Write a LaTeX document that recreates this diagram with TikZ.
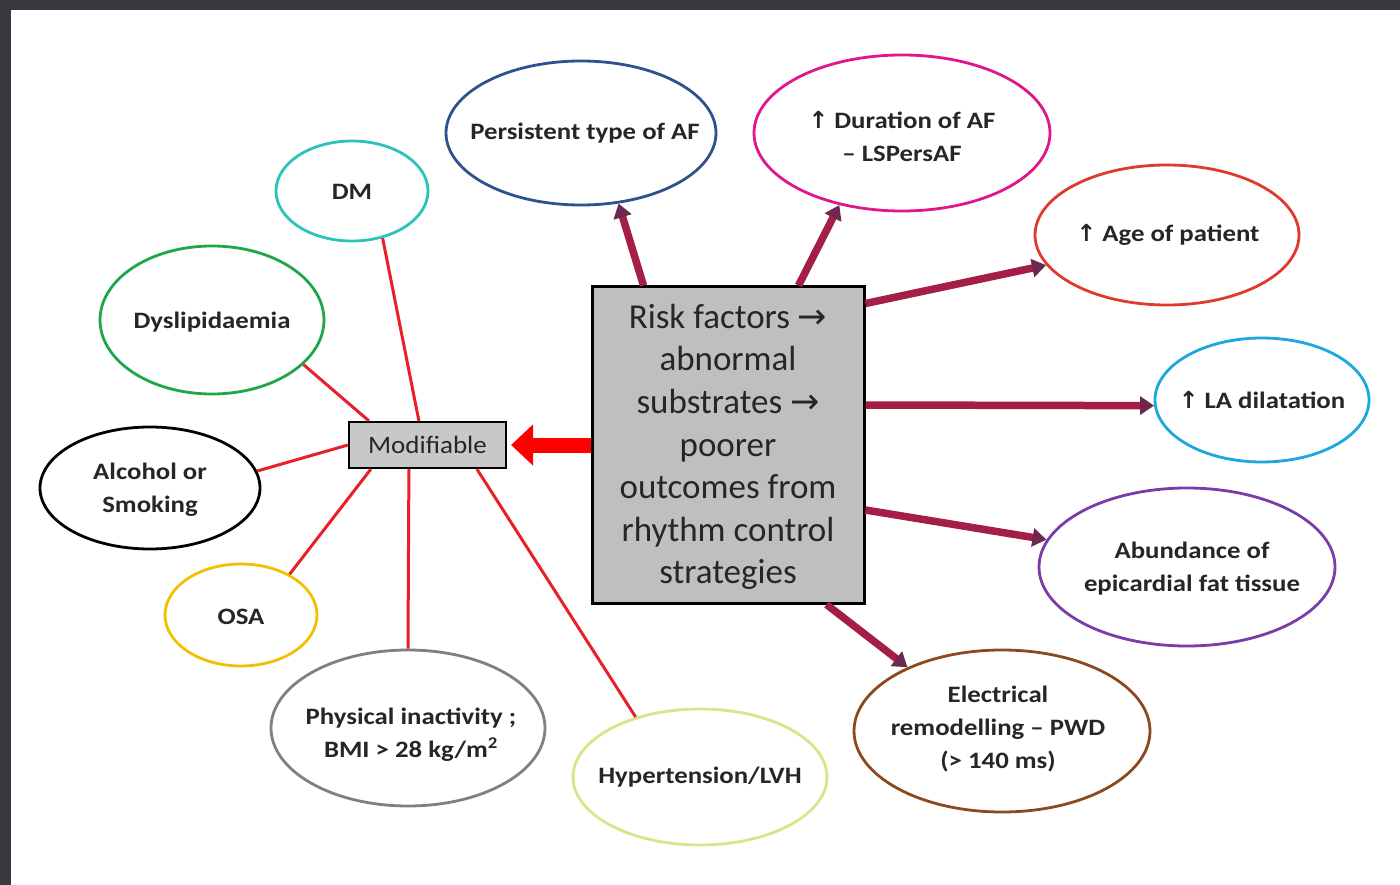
\documentclass[tikz,border=0pt]{standalone}
\usepackage{fontspec}
\setmainfont{Carlito}
\newfontfamily\efont[FakeStretch=1.14]{Carlito}
\newfontfamily\mfont[FakeStretch=1.08]{Carlito}
\newfontfamily\sym{DejaVu Sans}
\usetikzlibrary{shapes.geometric,arrows.meta}
\definecolor{bgdark}{RGB}{56,56,62}
\definecolor{boxgray}{RGB}{191,191,191}
\definecolor{modgray}{RGB}{200,200,200}
\definecolor{crim}{RGB}{165,30,70}
\definecolor{crimtip}{RGB}{110,40,80}
\definecolor{lred}{RGB}{232,32,40}
\definecolor{cPers}{RGB}{47,82,143}
\definecolor{cDur}{RGB}{224,22,140}
\definecolor{cAge}{RGB}{224,58,46}
\definecolor{cLA}{RGB}{28,168,221}
\definecolor{cAbu}{RGB}{122,60,168}
\definecolor{cEle}{RGB}{138,74,30}
\definecolor{cHyp}{RGB}{212,232,135}
\definecolor{cPhy}{RGB}{128,128,128}
\definecolor{cOSA}{RGB}{242,192,0}
\definecolor{cAlc}{RGB}{0,0,0}
\definecolor{cDys}{RGB}{31,166,74}
\definecolor{cDM}{RGB}{43,196,184}
\tikzset{
  ell/.style={draw=#1, ellipse, line width=2.8pt, inner sep=0pt},
  etxt/.style={font=\efont\fontsize{23.5}{33}\selectfont\bfseries, align=center, text=black!85, inner sep=0pt},
  redline/.style={draw=lred, line width=3pt},
  crimarrow/.style={draw=crim, line width=7.5pt, -{Triangle[length=14pt,width=18pt,color=crimtip]}},
  bigred/.style={draw=red, line width=15pt, -{Triangle[length=22pt,width=40pt,fill=red,color=red]}}
}
\begin{document}
\begin{tikzpicture}[x=1pt,y=-1pt]
\useasboundingbox (0,0) rectangle (1400,885);
\fill[bgdark] (0,0) rectangle (1400,885);
\fill[white] (11,10) rectangle (1400,885);

% central box
\node[draw, line width=3pt, fill=boxgray, minimum width=272pt, minimum height=316pt, inner sep=0pt] (box) at (728,445) {};
\node[font=\fontsize{35}{42.6}\selectfont, align=center, text=black!85, inner sep=0pt] (boxtxt) at (728,447)
  {Risk factors {\sym →}\\abnormal\\substrates {\sym →}\\poorer\\outcomes from\\rhythm control\\strategies};

% modifiable box
\node[draw, line width=2.2pt, fill=modgray, minimum width=157pt, minimum height=46pt, inner sep=0pt,
      font=\mfont\fontsize{25}{28}\selectfont, text=black!85] (mod) at (427.5,445) {Modifiable};

% right ellipses
\node[ell=cPers, minimum width=270pt, minimum height=144pt] (pers) at (581,133) {};
\node[etxt] (perst) at (585,133) {Persistent type of AF};
\node[ell=cDur, minimum width=296pt, minimum height=156pt] (dur) at (902,133) {};
\node[etxt] (durt) at (902,136) {{\sym ↑} Duration of AF\\– LSPersAF};
\node[ell=cAge, minimum width=264pt, minimum height=140pt] (age) at (1167,235) {};
\node[etxt] (aget) at (1168,235) {{\sym ↑} Age of patient};
\node[ell=cLA, minimum width=214pt, minimum height=124pt] (la) at (1262,400) {};
\node[etxt] (lat) at (1262,400) {{\sym ↑} LA dilatation};
\node[ell=cAbu, minimum width=296pt, minimum height=158pt] (abu) at (1187,567) {};
\node[etxt] (abut) at (1192,569) {Abundance of\\epicardial fat tissue};
\node[ell=cEle, minimum width=296pt, minimum height=162pt] (ele) at (1002,731) {};
\node[etxt] (elet) at (998,729) {Electrical\\remodelling – PWD\\(> 140 ms)};

% left ellipses
\node[ell=cHyp, minimum width=254pt, minimum height=136pt] (hyp) at (700,777) {};
\node[etxt] (hypt) at (700,777) {Hypertension/LVH};
\node[ell=cPhy, minimum width=274pt, minimum height=156pt] (phy) at (408,728) {};
\node[etxt] (phyt) at (411,735) {Physical inactivity ;\\BMI > 28 kg/m\textsuperscript{2}};
\node[ell=cOSA, minimum width=152pt, minimum height=102pt] (osa) at (241,615) {};
\node[etxt] (osat) at (241,617) {OSA};
\node[ell=cAlc, minimum width=220pt, minimum height=122pt] (alc) at (150,488) {};
\node[etxt] (alct) at (150,490) {Alcohol or\\Smoking};
\node[ell=cDys, minimum width=224pt, minimum height=148pt] (dys) at (212,320) {};
\node[etxt] (dyst) at (212,322) {Dyslipidaemia};
\node[ell=cDM, minimum width=152pt, minimum height=100pt] (dm) at (352,191) {};
\node[etxt] (dmt) at (352,192) {DM};

% red lines from Modifiable
\draw[redline] ([xshift=71pt]mod.north west) -- (dm.-57);
\draw[redline] ([xshift=21pt]mod.north west) -- (dys.-26);
\draw[redline] (mod.west) -- (alc.9.5);
\draw[redline] ([xshift=23pt]mod.south west) -- (osa.40);
\draw[redline] ([xshift=61pt]mod.south west) -- (phy.90);
\draw[redline] ([xshift=129pt]mod.south west) -- (hyp.137.7);

% big red arrow
\draw[bigred, shorten >=4pt] (box.west |- mod.east) -- (mod.east);

% crimson arrows
\draw[crimarrow] ([xshift=53pt]box.north west) -- (pers.-62);
\draw[crimarrow] ([xshift=208pt]box.north west) -- (dur.-131);
\draw[crimarrow] ([yshift=-18pt]box.north east) -- (age.-166.5);
\draw[crimarrow] ([yshift=40pt]box.east) -- (la.-177);
\draw[crimarrow] ([yshift=-65pt]box.east) -- (abu.169.6);
\draw[crimarrow] ([xshift=236pt]box.south west) -- (ele.146.7);
\end{tikzpicture}
\end{document}
